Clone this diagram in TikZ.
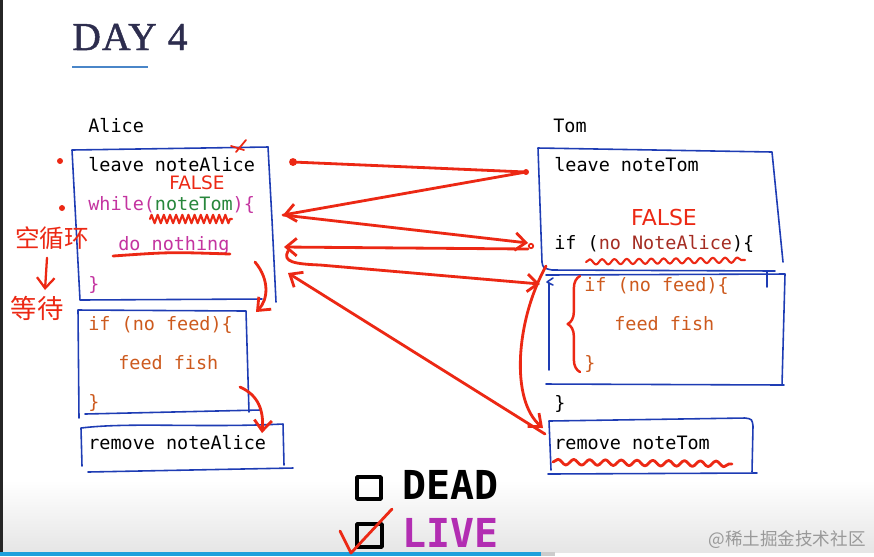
\documentclass[tikz,border=0pt]{standalone}
\usepackage{fontspec}
\usetikzlibrary{arrows.meta,decorations.pathmorphing,decorations.pathreplacing}
\newfontfamily\monof{DejaVu Sans Mono}
\newfontfamily\titlef[FakeBold=1.2,LetterSpace=3]{Liberation Serif}
\newfontfamily\cjkf{Noto Sans CJK SC}
\newfontfamily\handf{DejaVu Sans}
\definecolor{titlec}{RGB}{45,45,78}
\definecolor{ulblue}{RGB}{74,134,200}
\definecolor{boxblue}{RGB}{30,60,180}
\definecolor{redc}{RGB}{236,40,20}
\definecolor{magc}{RGB}{196,52,160}
\definecolor{greenc}{RGB}{40,135,60}
\definecolor{orangec}{RGB}{205,90,30}
\definecolor{darkredc}{RGB}{165,45,35}
\definecolor{livec}{RGB}{178,45,178}
\definecolor{barblue}{RGB}{30,160,220}
\begin{document}
\begin{tikzpicture}[x=0.02cm,y=-0.02cm,
  code/.style={anchor=base west,inner sep=0pt,font=\monof\fontsize{10.5}{12}\selectfont},
  bluebox/.style={draw=boxblue,line width=0.9pt,line cap=round,line join=round},
  redline/.style={draw=redc,line width=1.6pt,line cap=round,line join=round},
  redarrow/.style={redline,-{Straight Barb[length=6pt,width=10pt]}},
  reddot/.style={circle,fill=redc,inner sep=0pt,minimum size=3.4pt},
  falsetxt/.style={text=redc,inner sep=0pt},
  cjktxt/.style={text=redc,inner sep=0pt,font=\cjkf\fontsize{14}{16}\selectfont},
  bigword/.style={anchor=base west,inner sep=0pt,font=\monof\bfseries\fontsize{22.7}{26}\selectfont},
  checkbox/.style={draw=black,line width=2pt,line join=round}
]
\useasboundingbox (0,0) rectangle (874,556);
\fill[white] (0,0) rectangle (874,556);
\shade[top color=white,bottom color=black!10] (0,480) rectangle (874,552);
\fill[black!85] (0,0) rectangle (3,552);
\fill[barblue] (0,552) rectangle (541,556);
\fill[black!20] (541,552) rectangle (555,556);

% title
\node[anchor=base west,inner sep=0pt,text=titlec,font=\titlef\fontsize{22.5}{26}\selectfont] (title) at (72,50) {DAY 4};
\draw[ulblue,line width=1.2pt] (72,67) -- (148,67);

% Alice column
\node[code] (alice) at (88,132) {Alice};
\node[code] (leaveA) at (88,171) {leave noteAlice};
\node[code] (whileA) at (88,210) {{\color{magc}while(}{\color{greenc}noteTom}{\color{magc})\{}};
\node[code,text=magc] (nothing) at (118,250) {do nothing};
\node[code,text=magc] (closeA) at (88,290) {\}};
\node[code,text=orangec] (ifA) at (88,330) {if (no feed)\{};
\node[code,text=orangec] (feedA) at (118,369) {feed fish};
\node[code,text=orangec] (closeA2) at (88,408) {\}};
\node[code] (removeA) at (88,449) {remove noteAlice};

\draw[bluebox] (268,147) -- (72,150) -- (80,300) -- (262,299);
\draw[bluebox] (268,147) -- (272,220) -- (276,302);
\draw[bluebox] (79,418) -- (78,310) -- (246,311) -- (249,412);
\draw[bluebox] (85,414) -- (260,410);
\draw[bluebox] (82,466) -- (81,428) .. controls (130,422) and (200,428) .. (283,424) -- (284,465);
\draw[bluebox] (88,472) -- (293,468);

% Tom column
\node[code] (tom) at (553,132) {Tom};
\node[code] (leaveT) at (554,171) {leave noteTom};
\node[code] (ifT) at (554,249) {if ({\color{darkredc}no NoteAlice})\{};
\node[code,text=orangec] (ifT2) at (584,291) {if (no feed)\{};
\node[code,text=orangec] (feedT) at (614,330) {feed fish};
\node[code,text=orangec] (closeT2) at (584,369) {\}};
\node[code] (closeT) at (554,409) {\}};
\node[code] (removeT) at (554,449) {remove noteTom};

\draw[bluebox] (542,262) -- (538,148) -- (772,152) -- (783,262);
\draw[bluebox] (542,262) .. controls (543,268) .. (552,270) -- (775,271);
\draw[bluebox] (549,370) -- (549,283);
\draw[bluebox] (553,278) -- (547,282) -- (553,285);
\draw[bluebox] (546,275) -- (785,274) -- (782,385);
\draw[bluebox] (546,384) -- (784,385);
\draw[bluebox] (767,271) -- (767,287);
\draw[bluebox] (551,470) -- (549,421) -- (745,418) .. controls (752,419) .. (753,426) -- (752,472);
\draw[bluebox] (548,474) -- (757,473);

% red annotations, Alice
\node[reddot] (d1) at (60,161) {};
\node[reddot] (d2) at (62,208) {};
\draw[redline,line width=1pt] (246,140) -- (236,152);
\draw[redline,line width=1pt] (231,146) -- (244,150);
\node[falsetxt,font=\handf\fontsize{10.5}{12}\selectfont] (falseA) at (197,183) {FALSE};
\draw[redline,line width=1.2pt,decorate,decoration={zigzag,amplitude=2.4pt,segment length=3.5pt}] (150,219) -- (232,219);
\draw[redline] (113,256) .. controls (170,252) .. (230,254);
\node[cjktxt] (kong) at (52,238) {空循环};
\node[cjktxt,font=\cjkf\fontsize{15}{17}\selectfont] (deng) at (37,308) {等待};
\draw[redarrow,line width=1.3pt] (kong.south) ++(-5,8) coordinate (k0) -- (45,290) coordinate (k1);

% red annotations, Tom
\node[falsetxt,font=\handf\fontsize{12.5}{14}\selectfont] (falseT) at (664,217) {FALSE};
\draw[redline,line width=1.2pt,decorate,decoration={snake,amplitude=1.5pt,segment length=7pt}] (586,262) -- (745,260);
\draw[redline,decorate,decoration={snake,amplitude=1.6pt,segment length=9pt}] (553,462) -- (732,464);
\draw[redline,line width=1.4pt,decorate,decoration={brace,amplitude=7pt}] (580,372) -- (580,276);

% red arrows between the two columns
\coordinate (a0) at (293,162);
\coordinate (a1) at (526,172);
\coordinate (a2) at (283,215);
\coordinate (a3) at (528,243);
\coordinate (a4) at (528,249);
\coordinate (a5) at (284,247);
\coordinate (a5b) at (288,251);
\coordinate (a6) at (540,284);
\coordinate (a7) at (545,434);
\coordinate (a8) at (288,273);
\coordinate (a9) at (546,266);
\coordinate (a10) at (543,428);
\node[reddot,minimum size=4.5pt] (da0) at (a0) {};
\node[reddot] (da1) at (a1) {};
\draw[redline] (a0) -- (a1);
\draw[redarrow] (a1) -- (a2);
\draw[redarrow] (a2) -- (a3);
\draw[redc,line width=1pt] (531,246) circle (2.2);
\draw[redarrow] (a4) -- (a5);
\draw[redarrow] (a5b) .. controls (282,262) and (295,264) .. (320,265) -- (a6);
\draw[redarrow] (a7) -- (a8);
\draw[redarrow] (a9) .. controls (516,320) and (510,400) .. (a10);

% Alice step arrows
\coordinate (h0) at (255,262);
\coordinate (h1) at (256,312);
\coordinate (i0) at (240,387);
\coordinate (i1) at (262,433);
\draw[redarrow] (h0) .. controls (270,280) and (268,300) .. (h1);
\draw[redarrow] (i0) .. controls (258,395) and (264,410) .. (i1);

% DEAD / LIVE
\draw[checkbox] (357,477) rectangle (381,499);
\draw[checkbox] (357,524) rectangle (382,547);
\node[bigword] (dead) at (402,499) {DEAD};
\node[bigword,text=livec] (live) at (402,547) {LIVE};
\coordinate (c0) at (340,531);
\coordinate (c1) at (351,553);
\coordinate (c2) at (392,509);
\draw[redline] (c0) -- (c1) -- (c2);

% watermark
\node[anchor=east,inner sep=0pt,text=black!40,font=\cjkf\fontsize{10}{12}\selectfont] (wm) at (866,540) {@稀土掘金技术社区};
\end{tikzpicture}
\end{document}
